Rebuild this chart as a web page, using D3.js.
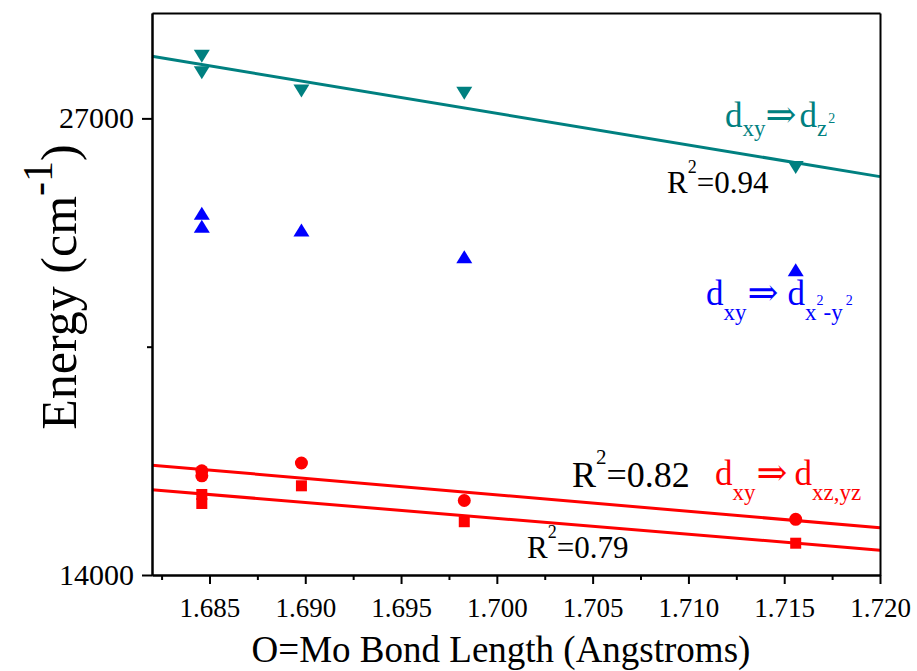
<!DOCTYPE html>
<html>
<head>
<meta charset="utf-8">
<script src="https://cdn.jsdelivr.net/npm/d3@7"></script>
<style>
  html, body { margin: 0; padding: 0; background: #fff; }
  svg { display: block; }
  text { font-family: "Liberation Serif", "Times New Roman", serif; }
</style>
</head>
<body>
<svg id="chart" width="917" height="671"></svg>
<script>
// O=Mo bond length (Angstroms) for each complex
const bondLength = [1.6846, 1.6846, 1.6898, 1.6983, 1.7156];

// Transition energies (cm^-1)
const dz2Energy     = [28767, 28300, 27779, 27714, 25601]; // dxy -> dz2
const dx2y2Energy   = [24297, 23927, 23822, 23062, 22692]; // dxy -> dx2-y2
const dxzCircle     = [16967, 16824, 17189, 16121, 15586]; // dxy -> dxz,yz (circles)
const dxzSquare     = [16292, 16036, 16539, 15517, 14905]; // dxy -> dxz,yz (squares)

const xTicks = [1.685, 1.690, 1.695, 1.700, 1.705, 1.710, 1.715, 1.720];
const xMinorTicks = [1.6825, 1.6875, 1.6925, 1.6975, 1.7025, 1.7075, 1.7125, 1.7175];
const yTicks = [14000, 27000];
const yMinorTicks = [20500];

const r2Labels = ["0.94", "0.82", "0.79"];

const TEAL = "#008080", BLUE = "#0000ff", RED = "#ff0000";

const svg = d3.select("#chart");
const margin = { left: 152, right: 37, top: 13, bottom: 96 };
const W = 917, H = 671;

const x = d3.scaleLinear().domain([1.682, 1.720]).range([margin.left, W - margin.right]);
const y = d3.scaleLinear().domain([14000, 30000]).range([H - margin.bottom, margin.top]);
const [plotLeft, plotRight] = x.range();
const [plotBottom, plotTop] = y.range();

// least-squares straight line through a series
function fit(xs, ys) {
  const mx = d3.mean(xs), my = d3.mean(ys);
  let sxy = 0, sxx = 0;
  xs.forEach((v, i) => { sxy += (v - mx) * (ys[i] - my); sxx += (v - mx) * (v - mx); });
  const b = sxy / sxx;
  return v => my + b * (v - mx);
}

// fit lines across the full x range
const line = d3.line().x(d => x(d[0])).y(d => y(d[1]));
function drawFit(ys, color) {
  const f = fit(bondLength, ys);
  const [x0, x1] = x.domain();
  svg.append("path")
    .attr("d", line([[x0, f(x0)], [x1, f(x1)]]))
    .attr("fill", "none").attr("stroke", color).attr("stroke-width", 3);
}
drawFit(dz2Energy, TEAL);
drawFit(dxzCircle, RED);
drawFit(dxzSquare, RED);

// markers
function triPath(cx, cy, w, h, down) {
  const p = d3.path();
  if (down) {
    p.moveTo(cx - w / 2, cy - h / 2); p.lineTo(cx + w / 2, cy - h / 2); p.lineTo(cx, cy + h / 2);
  } else {
    p.moveTo(cx - w / 2, cy + h / 2); p.lineTo(cx + w / 2, cy + h / 2); p.lineTo(cx, cy - h / 2);
  }
  p.closePath();
  return p.toString();
}
const pts = ys => ys.map((v, i) => [bondLength[i], v]);

svg.append("g").selectAll("path").data(pts(dz2Energy)).join("path")
  .attr("d", d => triPath(x(d[0]), y(d[1]), 16, 13, true)).attr("fill", TEAL);
svg.append("g").selectAll("path").data(pts(dx2y2Energy)).join("path")
  .attr("d", d => triPath(x(d[0]), y(d[1]), 16, 13, false)).attr("fill", BLUE);
svg.append("g").selectAll("circle").data(pts(dxzCircle)).join("circle")
  .attr("cx", d => x(d[0])).attr("cy", d => y(d[1])).attr("r", 6.5).attr("fill", RED);
svg.append("g").selectAll("rect").data(pts(dxzSquare)).join("rect")
  .attr("x", d => x(d[0]) - 5.5).attr("y", d => y(d[1]) - 5.5)
  .attr("width", 11).attr("height", 11).attr("fill", RED);

// axes
svg.append("g").attr("transform", `translate(0,${plotBottom})`)
  .call(d3.axisBottom(x).tickValues(xTicks).tickFormat(d3.format(".3f"))
    .tickSize(9).tickSizeOuter(0).tickPadding(14));
svg.append("g").attr("transform", `translate(0,${plotBottom})`)
  .call(d3.axisBottom(x).tickValues(xMinorTicks).tickFormat(() => "").tickSize(5).tickSizeOuter(0));
svg.append("g").attr("class", "yax").attr("transform", `translate(${plotLeft},0)`)
  .call(d3.axisLeft(y).tickValues(yTicks).tickFormat(d3.format("d"))
    .tickSize(10).tickSizeOuter(0).tickPadding(8));
svg.append("g").attr("transform", `translate(${plotLeft},0)`)
  .call(d3.axisLeft(y).tickValues(yMinorTicks).tickFormat(() => "").tickSize(5).tickSizeOuter(0));

// frame: top and right edges drawn as tickless axes
svg.append("g").attr("transform", `translate(0,${plotTop})`)
  .call(d3.axisTop(x).tickValues([]).tickSizeOuter(0));
svg.append("g").attr("transform", `translate(${plotRight},0)`)
  .call(d3.axisRight(y).tickValues([]).tickSizeOuter(0));

svg.selectAll(".domain").attr("stroke", "#000").attr("stroke-width", 2);
svg.selectAll(".tick line").attr("stroke", "#000").attr("stroke-width", 2);
svg.selectAll(".tick text").attr("fill", "#000")
  .style("font-family", "'Liberation Serif', serif").style("font-size", "27px");
svg.selectAll(".yax .tick text").style("font-size", "30px");

// axis titles
svg.append("text").attr("x", 501).attr("y", 662).attr("text-anchor", "middle")
  .style("font-size", "37px").text("O=Mo Bond Length (Angstroms)");

const yl = svg.append("text").attr("transform", "translate(76,287) rotate(-90)")
  .attr("text-anchor", "middle").style("font-size", "50px");
yl.append("tspan").text("Energy (cm");
yl.append("tspan").attr("dy", -24).style("font-size", "42px").text("-1");
yl.append("tspan").attr("dy", 24).text(")");

// rich text helper: parts = [text, size, dy, dx, family]
function rich(px, py, color, parts) {
  const t = svg.append("text").attr("x", px).attr("y", py).attr("fill", color);
  parts.forEach(([s, size, dy, dx, fam]) => {
    const sp = t.append("tspan").style("font-size", size + "px").text(s);
    if (dy) sp.attr("dy", dy);
    if (dx) sp.attr("dx", dx);
    if (fam) sp.style("font-family", fam);
  });
  return t;
}
const ARROW = "'DejaVu Serif', serif";

// transition labels
rich(725, 127, TEAL, [["d", 35], ["xy", 23, 9], ["\u21D2", 37, -9, 0, ARROW], ["d", 35, 0, 3], ["z", 23, 9], ["2", 14, -13, 1]]);
rich(706, 305, BLUE, [["d", 35], ["xy", 23, 15], ["\u21D2", 37, -15, 1, ARROW], ["d", 35, 0, 9], ["x", 23, 15], ["2", 14, -15], ["-y", 23, 15], ["2", 14, -15, 3]]);
rich(715, 485, RED, [["d", 35], ["xy", 23, 15], ["\u21D2", 37, -15, 1, ARROW], ["d", 35, 0, 7], ["xz,yz", 23, 15]]);

// R^2 values of the fits
rich(667, 193, "#000", [["R", 31], ["2", 18, -20], ["=" + r2Labels[0], 31, 20]]);
rich(572, 487, "#000", [["R", 36], ["2", 21, -23], ["=" + r2Labels[1], 36, 23]]);
rich(527, 558, "#000", [["R", 31], ["2", 18, -20], ["=" + r2Labels[2], 31, 20]]);
</script>
</body>
</html>
